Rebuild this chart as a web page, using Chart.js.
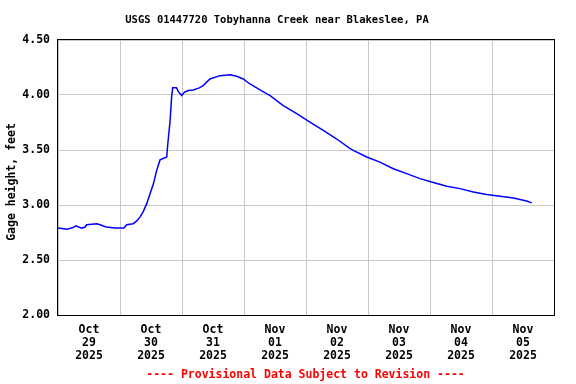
<!DOCTYPE html>
<html>
<head>
<meta charset="utf-8">
<script src="https://cdn.jsdelivr.net/npm/chart.js@4"></script>
<style>
	html, body { margin: 0; padding: 0; background: #fff; }
</style>
</head>
<body>
<canvas id="chart" width="576" height="384"></canvas>
<script>
// Hours since Oct 29 2025 00:00, and gage height in feet.
const hours = [ 0, 3.4, 5.3, 7.0, 8.0, 9.2, 10.5, 11.1, 15.0, 16.3, 18.6, 22.1, 25.5, 26.6, 29.1, 30.5, 31.7, 33.0, 34.3, 35.6,
	36.9, 38.2, 39.5, 42.1, 42.4, 43.4, 44.0, 44.4, 45.9, 46.6, 47.9, 48.9, 50.4, 52.4, 54.7, 56.2, 58.8, 62.7, 66.6, 69.2,
	71.7, 74.3, 78.2, 82.1, 87.2, 92.4, 97.5, 102.7, 107.9, 112.8, 114.3, 119.5, 124.6, 129.8, 135.0, 140.1, 145.3, 150.5,
	155.6, 160.8, 165.9, 171.1, 176.3, 181.4, 183.4 ];
const gage = [ 2.79, 2.78, 2.79, 2.81, 2.80, 2.79, 2.80, 2.82, 2.83, 2.82, 2.80, 2.79, 2.79, 2.82, 2.83, 2.855, 2.89, 2.94, 3.01, 3.10,
	3.19, 3.315, 3.41, 3.436, 3.53, 3.77, 3.99, 4.065, 4.065, 4.03, 3.995, 4.025, 4.04, 4.046, 4.065, 4.086, 4.146, 4.176, 4.185, 4.17,
	4.146, 4.10, 4.046, 3.995, 3.904, 3.83, 3.753, 3.678, 3.60, 3.517, 3.496, 3.436, 3.39, 3.33, 3.285, 3.24, 3.204, 3.17,
	3.149, 3.118, 3.095, 3.08, 3.064, 3.037, 3.019 ];
const dayLabels = [
	[ 'Oct', '29', '2025' ], [ 'Oct', '30', '2025' ], [ 'Oct', '31', '2025' ], [ 'Nov', '01', '2025' ],
	[ 'Nov', '02', '2025' ], [ 'Nov', '03', '2025' ], [ 'Nov', '04', '2025' ], [ 'Nov', '05', '2025' ],
];
const yMin = 2.0;
const yMax = 4.5;
const yStep = 0.5;

const MONO = '"DejaVu Sans Mono", "Liberation Mono", monospace';

// Frame round the plot plus the title, axis title and footer text.
const decor = {
	id: 'decor',
	afterDraw( chart ) {
		const { ctx, chartArea: a } = chart;
		ctx.save();
		ctx.strokeStyle = '#000';
		ctx.lineWidth = 1;
		ctx.strokeRect( a.left - 0.5, a.top - 0.5, a.right - a.left + 1, a.bottom - a.top + 1 );

		ctx.fillStyle = '#000';
		ctx.textAlign = 'center';
		ctx.textBaseline = 'middle';
		ctx.font = 'bold 10.5px ' + MONO;
		ctx.fillText( 'USGS 01447720 Tobyhanna Creek near Blakeslee, PA', 277, 20 );

		ctx.font = 'bold 11.5px ' + MONO;
		ctx.save();
		ctx.translate( 12, 182 );
		ctx.rotate( -Math.PI / 2 );
		ctx.fillText( 'Gage height, feet', 0, 0 );
		ctx.restore();

		ctx.fillStyle = '#ff0000';
		ctx.fillText( '---- Provisional Data Subject to Revision ----', 305.5, 375 );
		ctx.restore();
	},
};

new Chart( document.getElementById( 'chart' ), {
	type: 'line',
	data: {
		datasets: [ {
			data: hours.map( ( h, i ) => ( { x: h, y: gage[ i ] } ) ),
			borderColor: '#0000ff',
			borderWidth: 1.5,
			pointRadius: 0,
			tension: 0,
			fill: false,
		} ],
	},
	options: {
		responsive: false,
		animation: false,
		devicePixelRatio: 1,
		layout: { padding: { left: 0, top: 40, right: 22, bottom: 0 } },
		plugins: { legend: { display: false }, tooltip: { enabled: false } },
		scales: {
			x: {
				type: 'linear',
				min: 0,
				max: dayLabels.length * 24,
				afterBuildTicks: ( scale ) => {
					const t = [];
					for ( let v = 0; v <= dayLabels.length * 24; v += 12 ) t.push( { value: v } );
					scale.ticks = t;
				},
				afterFit: ( scale ) => { scale.height = 69; },
				grid: {
					color: ( c ) => ( c.tick && c.tick.value % 24 === 0 ? '#c8c8c8' : 'rgba(0,0,0,0)' ),
					drawTicks: false,
				},
				border: { display: false },
				ticks: {
					autoSkip: false,
					maxRotation: 0,
					padding: 9,
					color: '#000',
					font: { family: MONO, size: 11.5, weight: 'bold', lineHeight: 1.12 },
					callback: ( v ) => ( v % 24 === 12 ? dayLabels[ ( v - 12 ) / 24 ] : '' ),
				},
			},
			y: {
				min: yMin,
				max: yMax,
				afterFit: ( scale ) => { scale.width = 58; },
				grid: { color: '#c8c8c8', drawTicks: false },
				border: { display: false },
				ticks: {
					stepSize: yStep,
					padding: 8,
					color: '#000',
					font: { family: MONO, size: 11.5, weight: 'bold' },
					callback: ( v ) => Number( v ).toFixed( 2 ),
				},
			},
		},
	},
	plugins: [ decor ],
} );
</script>
</body>
</html>
